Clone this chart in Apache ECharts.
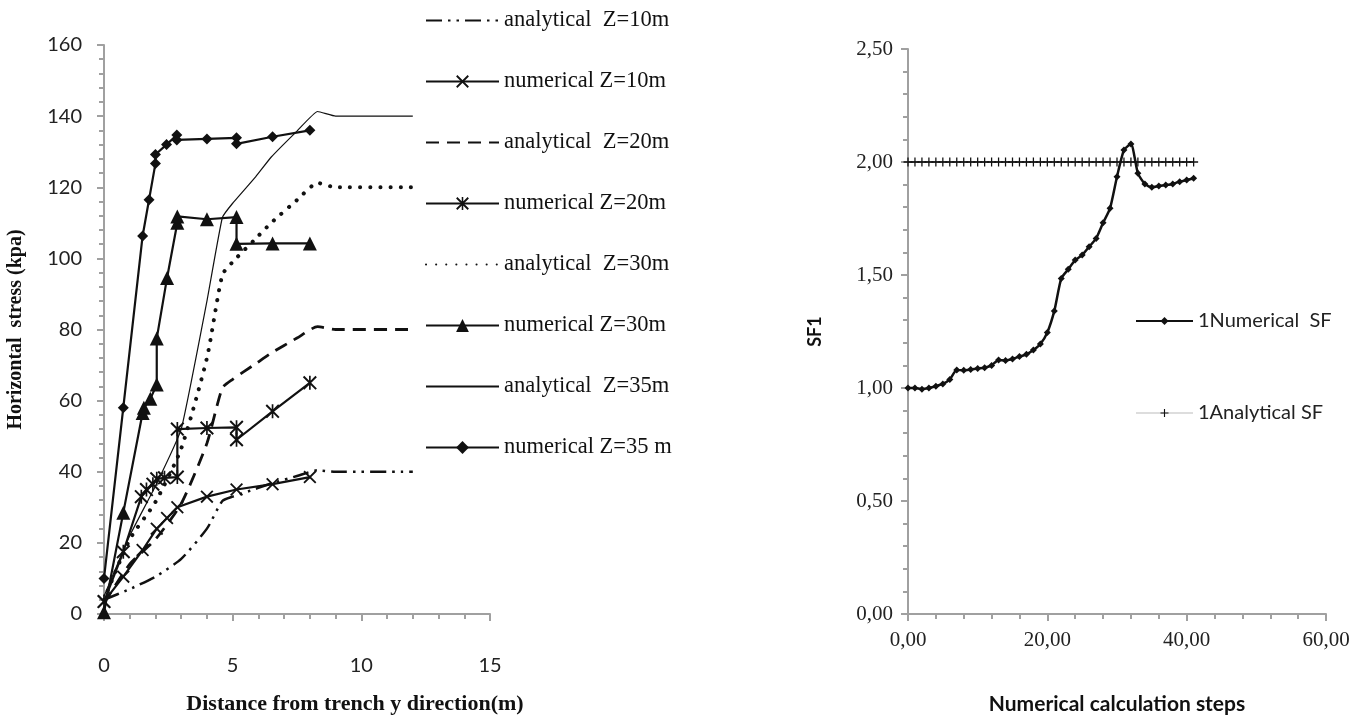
<!DOCTYPE html>
<html>
<head>
<meta charset="utf-8">
<script src="https://cdn.jsdelivr.net/npm/echarts/dist/echarts.min.js"></script>
<style>
html,body{margin:0;padding:0;background:#fff;}
#c{width:1366px;height:720px;}
</style>
</head>
<body>
<div id="c"></div>
<script>
// ---------- Left chart data ----------
const anaX   = [0, 1, 2, 3, 4, 4.6, 5, 5.9, 6.5, 7.5, 8.3, 9, 12];
const anaZ10 = [4, 7, 10.5, 15.5, 24, 31.8, 33, 35.2, 36.7, 38.8, 40.4, 40, 40];
const anaZ20 = [3, 14, 21, 31, 48, 63.6, 66, 70.4, 73.4, 77.6, 80.8, 80, 80];
const anaZ30 = [4, 21, 31.5, 46.5, 72, 95.4, 99, 105.6, 110, 116.4, 121.2, 120, 120];
const anaZ35 = [5, 22, 36, 52, 88, 111.5, 115.5, 123, 128.5, 135.8, 141.3, 140, 140];

const numZ10X = [0, 0.75, 1.5, 2.05, 2.45, 2.85, 4.0, 5.15, 6.55, 8.0];
const numZ10Y = [3.5, 10.5, 18, 24, 27, 30, 33, 35, 36.5, 38.5];

const numZ20X = [0, 0.75, 1.45, 1.65, 1.9, 2.05, 2.35, 2.85, 2.85, 4.0, 5.15, 5.15, 6.55, 8.0];
const numZ20Y = [3.5, 17.5, 33, 35, 36.5, 38, 38.3, 38.5, 52, 52.3, 52.5, 49, 57, 65];

const numZ30X = [0, 0.75, 1.5, 1.55, 1.8, 2.05, 2.05, 2.45, 2.85, 2.85, 4.0, 5.15, 5.15, 6.55, 8.0];
const numZ30Y = [0.5, 28.5, 56.5, 58, 60.5, 64.5, 77.5, 94.5, 110, 111.8, 111, 111.6, 104.1, 104.2, 104.2];

const numZ35X = [0, 0.75, 1.5, 1.75, 2.0, 2.0, 2.43, 2.83, 2.83, 4.0, 5.15, 5.15, 6.55, 8.0];
const numZ35Y = [10, 58, 106.3, 116.5, 126.7, 129.2, 132, 134.7, 133.3, 133.6, 133.9, 132.2, 134.2, 136];

const leftNames = ['analytical  Z=10m', 'numerical Z=10m', 'analytical  Z=20m', 'numerical Z=20m',
                   'analytical  Z=30m', 'numerical Z=30m', 'analytical  Z=35m', 'numerical Z=35 m'];

// ---------- Right chart data ----------
const steps = [0,1,2,3,4,5,6,7,8,9,10,11,12,13,14,15,16,17,18,19,20,21,22,23,24,25,26,27,28,29,30,31,32,33,34,35,36,37,38,39,40,41];
const numSF = [1.00,1.00,0.995,1.00,1.008,1.018,1.038,1.08,1.078,1.082,1.086,1.09,1.10,1.124,1.122,1.128,1.139,1.149,1.168,1.195,1.246,1.341,
               1.485,1.525,1.566,1.588,1.625,1.662,1.731,1.795,1.935,2.053,2.080,1.950,1.903,1.888,1.894,1.898,1.903,1.913,1.920,1.928];
const anaSF = [2,2,2,2,2,2,2,2,2,2,2,2,2,2,2,2,2,2,2,2,2,2,2,2,2,2,2,2,2,2,2,2,2,2,2,2,2,2,2,2,2,2];
const rightNames = ['1Numerical  SF', '1Analytical SF'];

// ---------- helpers ----------
const pair = (xs, ys) => xs.map((x, i) => [x, ys[i]]);
const SYM_X = 'path://M0,1L1,0L10,9L9,10Z M1,10L0,9L9,0L10,1Z';
const SYM_AST = 'path://M0,1L1,0L10,9L9,10Z M1,10L0,9L9,0L10,1Z M4.4,0L5.6,0L5.6,10L4.4,10Z';
const SYM_PLUS = 'path://M4.3,0L5.7,0L5.7,10L4.3,10Z M0,4.3L10,4.3L10,5.7L0,5.7Z';
const AX = '#a0a0a0';
const SERIF = 'Liberation Serif';
const SANS = 'Lato';
const commaFmt = v => v.toFixed(2).replace('.', ',');

function axisBase() {
  return {
    type: 'value',
    splitLine: { show: false },
    axisLine: { show: true, lineStyle: { color: AX, width: 2 } },
    axisTick: { show: true, inside: false, length: 7, lineStyle: { color: AX, width: 2 } },
    minorTick: { show: true, splitNumber: 5, length: 5, lineStyle: { color: AX, width: 2 } },
    minorSplitLine: { show: false }
  };
}

const chart = echarts.init(document.getElementById('c'), null, { renderer: 'canvas' });
const lineBlack = '#111';
const noMark = { opacity: 0 };

const option = {
  backgroundColor: '#fff',
  animation: false,
  grid: [
    { left: 104, top: 45, width: 386, height: 581, containLabel: false },
    { left: 908, top: 49, width: 418, height: 565, containLabel: false }
  ],
  xAxis: [
    Object.assign(axisBase(), {
      gridIndex: 0, min: 0, max: 15, interval: 5,
      axisLabel: { margin: 42, fontFamily: SANS, fontSize: 20, color: '#222' },
      name: 'Distance from trench y direction(m)', nameLocation: 'middle', nameGap: 79,
      nameTextStyle: { fontFamily: SERIF, fontWeight: 'bold', fontSize: 22, color: '#111', padding: [0, 0, 0, 116] }
    }),
    Object.assign(axisBase(), {
      gridIndex: 1, min: 0, max: 60, interval: 20,
      axisLabel: { margin: 16, fontFamily: SERIF, fontSize: 21, color: '#222', formatter: commaFmt },
      name: 'Numerical calculation steps', nameLocation: 'middle', nameGap: 80,
      nameTextStyle: { fontFamily: SANS, fontWeight: 'bold', fontSize: 21, color: '#111' }
    })
  ],
  yAxis: [
    Object.assign(axisBase(), {
      gridIndex: 0, min: 0, max: 160, interval: 20,
      axisLabel: { margin: 22, fontFamily: SANS, fontSize: 20, color: '#222' },
      name: 'Horizontal  stress (kpa)', nameLocation: 'middle', nameGap: 78,
      nameTextStyle: { fontFamily: SERIF, fontWeight: 'bold', fontSize: 20, color: '#111' }
    }),
    Object.assign(axisBase(), {
      gridIndex: 1, min: 0, max: 2.5, interval: 0.5,
      axisLabel: { margin: 15, fontFamily: SERIF, fontSize: 21, color: '#222', formatter: commaFmt },
      name: 'SF1', nameLocation: 'middle', nameGap: 84,
      nameTextStyle: { fontFamily: SANS, fontWeight: 'bold', fontSize: 18, color: '#111' }
    })
  ],
  legend: [
    {
      data: [
        { name: leftNames[0], itemStyle: noMark },
        { name: leftNames[1] },
        { name: leftNames[2], itemStyle: noMark },
        { name: leftNames[3] },
        { name: leftNames[4], itemStyle: noMark },
        { name: leftNames[5] },
        { name: leftNames[6], itemStyle: noMark },
        { name: leftNames[7] }
      ],
      orient: 'vertical', left: 425, top: 9, padding: 0,
      itemWidth: 73, itemHeight: 16, itemGap: 38, itemTextGap: 8,
      textStyle: { fontFamily: SERIF, fontSize: 22.5, color: '#111' },
      selectedMode: false
    },
    {
      data: [
        { name: rightNames[0] },
        { name: rightNames[1], lineStyle: { color: '#bbb', width: 1 } }
      ],
      orient: 'vertical', left: 1135, top: 311, padding: 0,
      itemWidth: 57, itemHeight: 10, itemGap: 72, itemTextGap: 14,
      textStyle: { fontFamily: SANS, fontSize: 20, color: '#222' },
      selectedMode: false
    }
  ],
  series: [
    { name: leftNames[0], type: 'line', xAxisIndex: 0, yAxisIndex: 0, data: pair(anaX, anaZ10),
      symbol: 'none', smooth: 0.2, itemStyle: { color: lineBlack },
      lineStyle: { color: lineBlack, width: 2.5, type: [16, 6, 2.5, 6, 2.5, 6] }, z: 2 },
    { name: leftNames[1], type: 'line', xAxisIndex: 0, yAxisIndex: 0, data: pair(numZ10X, numZ10Y),
      symbol: SYM_X, symbolSize: 13, itemStyle: { color: lineBlack },
      lineStyle: { color: lineBlack, width: 2.2 }, z: 3 },
    { name: leftNames[2], type: 'line', xAxisIndex: 0, yAxisIndex: 0, data: pair(anaX, anaZ20),
      symbol: 'none', smooth: 0.2, itemStyle: { color: lineBlack },
      lineStyle: { color: lineBlack, width: 2.8, type: [13, 8] }, z: 2 },
    { name: leftNames[3], type: 'line', xAxisIndex: 0, yAxisIndex: 0, data: pair(numZ20X, numZ20Y),
      symbol: SYM_AST, symbolSize: 14, itemStyle: { color: lineBlack },
      lineStyle: { color: lineBlack, width: 2.2 }, z: 3 },
    { name: leftNames[4], type: 'line', xAxisIndex: 0, yAxisIndex: 0, data: pair(anaX, anaZ30),
      symbol: 'none', smooth: 0.2, itemStyle: { color: lineBlack },
      lineStyle: { color: lineBlack, width: 4, type: [0.1, 10], cap: 'round' }, z: 2 },
    { name: leftNames[5], type: 'line', xAxisIndex: 0, yAxisIndex: 0, data: pair(numZ30X, numZ30Y),
      symbol: 'triangle', symbolSize: 14, itemStyle: { color: lineBlack },
      lineStyle: { color: lineBlack, width: 2.2 }, z: 3 },
    { name: leftNames[6], type: 'line', xAxisIndex: 0, yAxisIndex: 0, data: pair(anaX, anaZ35),
      symbol: 'none', smooth: 0.12, itemStyle: { color: lineBlack },
      lineStyle: { color: lineBlack, width: 1.2 }, z: 2 },
    { name: leftNames[7], type: 'line', xAxisIndex: 0, yAxisIndex: 0, data: pair(numZ35X, numZ35Y),
      symbol: 'diamond', symbolSize: 11, itemStyle: { color: lineBlack },
      lineStyle: { color: lineBlack, width: 2.2 }, z: 3 },

    { name: rightNames[0], type: 'line', xAxisIndex: 1, yAxisIndex: 1, data: pair(steps, numSF),
      symbol: 'diamond', symbolSize: 7, smooth: 0.2, itemStyle: { color: lineBlack },
      lineStyle: { color: lineBlack, width: 2.5 }, z: 3 },
    { name: rightNames[1], type: 'line', xAxisIndex: 1, yAxisIndex: 1, data: pair(steps, anaSF),
      symbol: SYM_PLUS, symbolSize: 9, itemStyle: { color: '#111' },
      lineStyle: { color: '#444', width: 1.5 }, z: 2 }
  ]
};
chart.setOption(option);
</script>
</body>
</html>
